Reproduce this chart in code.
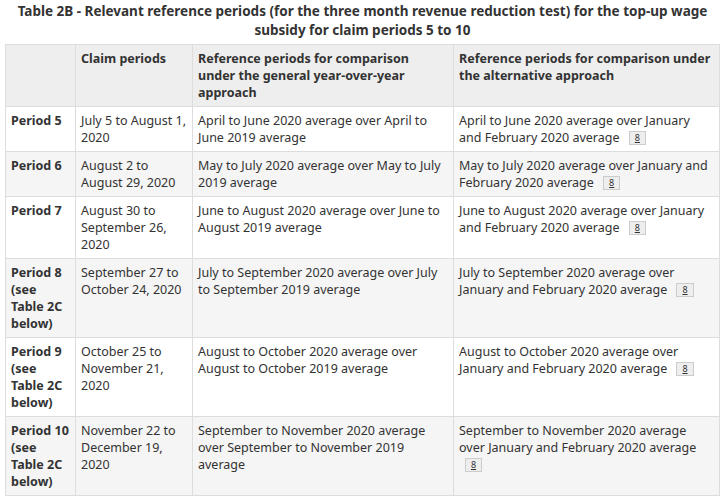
<!DOCTYPE html>
<html>
<head>
<meta charset="utf-8">
<script src="https://cdn.jsdelivr.net/npm/chart.js"></script>
<style>
  body { margin: 0; font-family: "Noto Sans", sans-serif; font-size: 12.5px; color: #333; background: #fff; }
  #wrap { width: 714px; margin: 0 0 0 5px; }
  caption { font-weight: bold; font-size: 13.5px; line-height: 19px; padding: 2px 0 4px; text-align: center; }
  table { border-collapse: collapse; width: 714px; table-layout: fixed; }
  th, td { border: 1px solid #ddd; padding: 5px 5px; vertical-align: top; line-height: 17px; text-align: left; }
  th { font-weight: bold; }
  thead tr { background: #eee; }
  tbody tr:nth-child(even) { background: #f5f5f5; }
  .fn { display: inline-block; font-size: 9px; line-height: 12px; padding: 0 5px; margin-left: 6px; border: 1px solid #ccc; background: #eee; text-decoration: underline; vertical-align: 1px; }
</style>
</head>
<body>
<div id="wrap">
<table id="tbl">
  <caption>Table 2B - Relevant reference periods (for the three month revenue reduction test) for the top-up wage subsidy for claim periods 5 to 10</caption>
  <colgroup><col style="width:70px"><col style="width:117px"><col style="width:261px"><col style="width:266px"></colgroup>
  <thead><tr id="head"></tr></thead>
  <tbody id="body"></tbody>
</table>
</div>
<script>
  const headers = ["", "Claim periods", "Reference periods for comparison under the general year-over-year approach", "Reference periods for comparison under the alternative approach"];
  const periods = ["Period 5", "Period 6", "Period 7", "Period 8 (see Table 2C below)", "Period 9 (see Table 2C below)", "Period 10 (see Table 2C below)"];
  const claimPeriods = ["July 5 to August 1, 2020", "August 2 to August 29, 2020", "August 30 to September 26, 2020", "September 27 to October 24, 2020", "October 25 to November 21, 2020", "November 22 to December 19, 2020"];
  const generalRefs = [
    "April to June 2020 average over April to June 2019 average",
    "May to July 2020 average over May to July 2019 average",
    "June to August 2020 average over June to August 2019 average",
    "July to September 2020 average over July to September 2019 average",
    "August to October 2020 average over August to October 2019 average",
    "September to November 2020 average over September to November 2019 average"
  ];
  const altRefs = [
    "April to June 2020 average over January and February 2020 average",
    "May to July 2020 average over January and February 2020 average",
    "June to August 2020 average over January and February 2020 average",
    "July to September 2020 average over January and February 2020 average",
    "August to October 2020 average over January and February 2020 average",
    "September to November 2020 average over January and February 2020 average"
  ];
  const footnote = "8";

  const head = document.getElementById("head");
  headers.forEach(h => {
    const th = document.createElement("th");
    th.textContent = h;
    head.appendChild(th);
  });

  const body = document.getElementById("body");
  periods.forEach((p, i) => {
    const tr = document.createElement("tr");
    const th = document.createElement("th");
    th.textContent = p;
    tr.appendChild(th);
    [claimPeriods[i], generalRefs[i]].forEach(t => {
      const td = document.createElement("td");
      td.textContent = t;
      tr.appendChild(td);
    });
    const td = document.createElement("td");
    td.textContent = altRefs[i] + " ";
    const fn = document.createElement("span");
    fn.className = "fn";
    fn.textContent = footnote;
    td.appendChild(fn);
    tr.appendChild(td);
    body.appendChild(tr);
  });
</script>
</body>
</html>
